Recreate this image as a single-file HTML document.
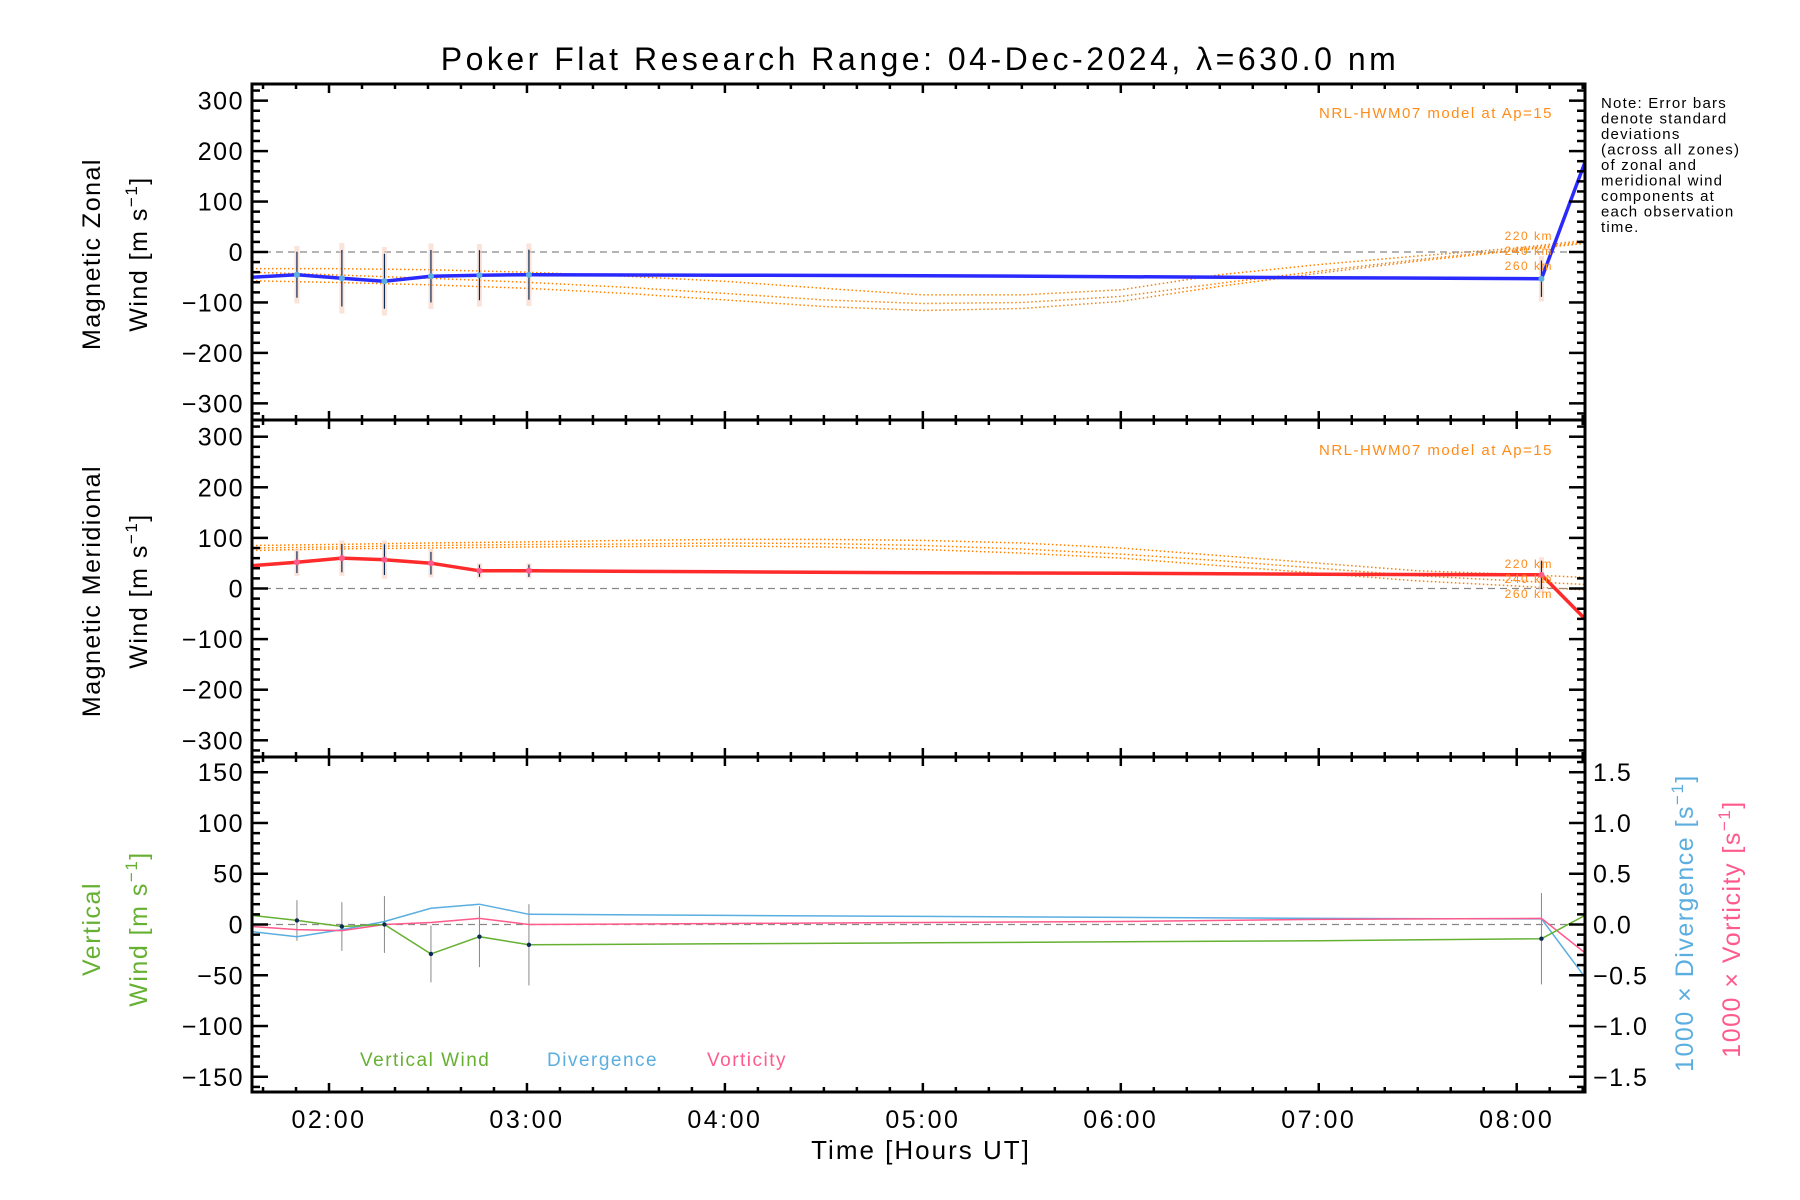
<!DOCTYPE html>
<html><head><meta charset="utf-8"><title>Poker Flat Research Range winds</title>
<style>
html,body{margin:0;padding:0;background:#fff;}
svg{display:block;font-family:"Liberation Sans","DejaVu Sans",sans-serif;}
text{letter-spacing:1.5px;}
</style></head>
<body>
<svg id="chart" width="1800" height="1200" viewBox="0 0 1800 1200" xmlns="http://www.w3.org/2000/svg">
<rect x="0" y="0" width="1800" height="1200" fill="#fff"/>
<text x="920" y="70" font-size="32" text-anchor="middle" fill="#000" style="letter-spacing:3.5px">Poker Flat Research Range: 04-Dec-2024, λ=630.0 nm</text>
<g id="marks"></g>
<g id="axes"></g>
<text font-size="15" fill="#000" x="1601" y="108" style="letter-spacing:1.2px">
<tspan x="1601" dy="0">Note: Error bars</tspan>
<tspan x="1601" dy="15.5">denote standard</tspan>
<tspan x="1601" dy="15.5">deviations</tspan>
<tspan x="1601" dy="15.5">(across all zones)</tspan>
<tspan x="1601" dy="15.5">of zonal and</tspan>
<tspan x="1601" dy="15.5">meridional wind</tspan>
<tspan x="1601" dy="15.5">components at</tspan>
<tspan x="1601" dy="15.5">each observation</tspan>
<tspan x="1601" dy="15.5">time.</tspan>
</text>
<text x="1553" y="118" font-size="15" fill="#ff8c1a" text-anchor="end">NRL-HWM07 model at Ap=15</text>
<text x="1553" y="455" font-size="15" fill="#ff8c1a" text-anchor="end">NRL-HWM07 model at Ap=15</text>
<g font-size="12" fill="#ff8c1a" text-anchor="end">
<text x="1553" y="240">220 km</text>
<text x="1553" y="255">240 km</text>
<text x="1553" y="270">260 km</text>
<text x="1553" y="568">220 km</text>
<text x="1553" y="583">240 km</text>
<text x="1553" y="598">260 km</text>
</g>
<g font-size="19">
<text x="360" y="1066" fill="#66b032">Vertical Wind</text>
<text x="547" y="1066" fill="#5aaee0">Divergence</text>
<text x="707" y="1066" fill="#ff5a8c">Vorticity</text>
</g>
<g font-size="25" text-anchor="middle" style="letter-spacing:3px">
<text transform="translate(100,254) rotate(-90)">Magnetic Zonal</text>
<text transform="translate(147,254) rotate(-90)">Wind [m s<tspan dy="-10" font-size="17">−1</tspan><tspan dy="10">]</tspan></text>
<text transform="translate(100,591) rotate(-90)">Magnetic Meridional</text>
<text transform="translate(147,591) rotate(-90)">Wind [m s<tspan dy="-10" font-size="17">−1</tspan><tspan dy="10">]</tspan></text>
<text fill="#66b032" transform="translate(100,929) rotate(-90)">Vertical</text>
<text fill="#66b032" transform="translate(147,929) rotate(-90)">Wind [m s<tspan dy="-10" font-size="17">−1</tspan><tspan dy="10">]</tspan></text>
<text fill="#5aaee0" transform="translate(1693,923) rotate(-90)">1000 × Divergence [s<tspan dy="-10" font-size="17">−1</tspan><tspan dy="10">]</tspan></text>
<text fill="#ff5a8c" transform="translate(1740,929) rotate(-90)">1000 × Vorticity [s<tspan dy="-10" font-size="17">−1</tspan><tspan dy="10">]</tspan></text>
</g>
<text x="921" y="1159" font-size="26" text-anchor="middle" style="letter-spacing:2px">Time [Hours UT]</text>
</svg>
<script>
// ---- data ----
const obsTimes = [1.611, 1.838, 2.065, 2.28, 2.515, 2.76, 3.01, 4.0, 5.0, 6.0, 7.0, 8.125, 8.345];
const zonalWind = [-50, -45, -52, -58, -48, -46, -45, -46, -47, -49, -51, -53, 178];
const meridWind = [45, 52, 60, 57, 50, 35, 35, 33, 31, 30, 28, 27, -60];
const vertWind = [9, 4, -2, 0, -29, -12, -20, -19, -18, -17, -16, -14, 9];
const divergence = [-0.07, -0.12, -0.05, 0.03, 0.16, 0.20, 0.10, 0.09, 0.08, 0.07, 0.06, 0.055, -0.52];
const vorticity = [-0.02, -0.05, -0.06, 0.0, 0.02, 0.06, 0.0, 0.01, 0.02, 0.03, 0.05, 0.06, -0.28];
const errTimes = [1.838, 2.065, 2.28, 2.515, 2.76, 3.01, 8.125];
const zonalAt = [-45, -52, -58, -48, -46, -45, -53];
const zonalStd = [57, 70, 68, 65, 62, 62, 45];
const meridAt = [52, 60, 57, 50, 35, 35, 27];
const meridStd = [27, 35, 38, 28, 15, 15, 35];
const vertAt = [4, -2, 0, -29, -12, -20, -14];
const vertStd = [20, 24, 28, 28, 30, 40, 45];
const modelTimes = [1.611, 2, 2.5, 3, 3.5, 4, 4.5, 5, 5.5, 6, 6.5, 7, 7.5, 8, 8.345];
const zonal220 = [-33, -33, -35, -40, -48, -58, -72, -85, -85, -75, -45, -25, -8, 8, 23];
const zonal240 = [-40, -45, -52, -60, -70, -82, -95, -102, -100, -88, -62, -38, -15, 5, 20];
const zonal260 = [-57, -60, -65, -72, -82, -95, -108, -116, -112, -98, -68, -42, -18, 3, 17];
const merid220 = [85, 87, 90, 92, 95, 97, 97, 95, 90, 80, 65, 50, 35, 28, 22];
const merid240 = [80, 82, 85, 87, 88, 90, 89, 85, 78, 68, 55, 40, 25, 15, 8];
const merid260 = [75, 78, 80, 82, 83, 84, 82, 77, 70, 60, 45, 30, 15, 5, -3];
const hourTicks = [2, 3, 4, 5, 6, 7, 8];
const hourLabels = ["02:00", "03:00", "04:00", "05:00", "06:00", "07:00", "08:00"];
const windTicks = [-300, -200, -100, 0, 100, 200, 300];
const vertTicks = [-150, -100, -50, 0, 50, 100, 150];
const rightTicks = [-1.5, -1.0, -0.5, 0.0, 0.5, 1.0, 1.5];

// ---- geometry ----
const X0 = 252, X1 = 1585, T0 = 1.611, T1 = 8.345;
const P = [{top:84,bot:420,min:-333,max:333},{top:420,bot:757,min:-333,max:333},{top:757,bot:1092,min:-165,max:165}];
const RMIN = -1.65, RMAX = 1.65;
const NS = "http://www.w3.org/2000/svg";
function xs(t){return X0 + (t - T0) / (T1 - T0) * (X1 - X0);}
function ys(p, v){const q = P[p]; return q.bot - (v - q.min) / (q.max - q.min) * (q.bot - q.top);}
function yr(v){const q = P[2]; return q.bot - (v - RMIN) / (RMAX - RMIN) * (q.bot - q.top);}
const marks = document.getElementById('marks');
const axes = document.getElementById('axes');
function mk(tag, attrs, parent){const e = document.createElementNS(NS, tag); for (const k in attrs) e.setAttribute(k, attrs[k]); parent.appendChild(e); return e;}
function poly(ts, vs, yf, stroke, w, dash, name){
  const pts = ts.map((t,i)=>xs(t).toFixed(1)+','+yf(vs[i]).toFixed(1)).join(' ');
  const e = mk('polyline', {points:pts, fill:'none', stroke:stroke, 'stroke-width':w}, marks);
  if (dash) e.setAttribute('stroke-dasharray', dash);
  
  
}
[0,1,2].forEach(p=>{
  const l = mk('line', {x1:X0, x2:X1, y1:ys(p,0), y2:ys(p,0), stroke:'#888', 'stroke-width':1.3, 'stroke-dasharray':'7,5'}, marks);
  
  
});
const mcol = '#ff8000';
poly(modelTimes, zonal220, v=>ys(0,v), mcol, 1.5, '1.5,2.5', 'model-zonal-220km');
poly(modelTimes, zonal240, v=>ys(0,v), mcol, 1.5, '1.5,2.5', 'model-zonal-240km');
poly(modelTimes, zonal260, v=>ys(0,v), mcol, 1.5, '1.5,2.5', 'model-zonal-260km');
poly(modelTimes, merid220, v=>ys(1,v), mcol, 1.5, '1.5,2.5', 'model-meridional-220km');
poly(modelTimes, merid240, v=>ys(1,v), mcol, 1.5, '1.5,2.5', 'model-meridional-240km');
poly(modelTimes, merid260, v=>ys(1,v), mcol, 1.5, '1.5,2.5', 'model-meridional-260km');
errTimes.forEach((t,i)=>{
  const x = xs(t);
  const b1 = mk('rect', {x:x-2.5, y:ys(0,zonalAt[i]+zonalStd[i]), width:5, height:ys(0,zonalAt[i]-zonalStd[i])-ys(0,zonalAt[i]+zonalStd[i]), fill:'#f8d0c0', opacity:0.6}, marks);
  
  
  const e1 = mk('line', {x1:x, x2:x, y1:ys(0,zonalAt[i]+zonalStd[i]*0.8), y2:ys(0,zonalAt[i]-zonalStd[i]*0.8), stroke:'#0a2a55', 'stroke-width':1.2}, marks);
  
  
  const b2 = mk('rect', {x:x-2.5, y:ys(1,meridAt[i]+meridStd[i]), width:5, height:ys(1,meridAt[i]-meridStd[i])-ys(1,meridAt[i]+meridStd[i]), fill:'#f8d0c0', opacity:0.6}, marks);
  
  
  const e2 = mk('line', {x1:x, x2:x, y1:ys(1,meridAt[i]+meridStd[i]*0.8), y2:ys(1,meridAt[i]-meridStd[i]*0.8), stroke:'#0a2a55', 'stroke-width':1.2}, marks);
  
  
  const e3 = mk('line', {x1:x, x2:x, y1:ys(2,vertAt[i]+vertStd[i]), y2:ys(2,vertAt[i]-vertStd[i]), stroke:'#888', 'stroke-width':1}, marks);
  
  
});
poly(obsTimes, zonalWind, v=>ys(0,v), '#2a2aff', 3.5, null, 'zonal-wind-line');
poly(obsTimes, meridWind, v=>ys(1,v), '#ff2a2a', 3.5, null, 'meridional-wind-line');
poly(obsTimes, divergence, v=>yr(v), '#5aaee0', 1.5, null, 'divergence-line');
poly(obsTimes, vorticity, v=>yr(v), '#ff5a8c', 1.5, null, 'vorticity-line');
poly(obsTimes, vertWind, v=>ys(2,v), '#66b032', 1.5, null, 'vertical-wind-line');
errTimes.forEach((t,i)=>{
  const c = mk('circle', {cx:xs(t), cy:ys(2,vertAt[i]), r:2.2, fill:'#0a2a55'}, marks);
  
  
  const c1 = mk('circle', {cx:xs(t), cy:ys(0,zonalAt[i]), r:3, fill:'#5aaee0'}, marks);
  
  
  const c2 = mk('circle', {cx:xs(t), cy:ys(1,meridAt[i]), r:3, fill:'#ff5a8c'}, marks);
  
  
});
function tick(x1,y1,x2,y2,w){mk('line',{x1:x1,y1:y1,x2:x2,y2:y2,stroke:'#000','stroke-width':w},axes);}
P.forEach((q,p)=>{
  const fr = mk('rect', {x:X0, y:q.top, width:X1-X0, height:q.bot-q.top, fill:'none', stroke:'#000', 'stroke-width':3}, axes);
  
  
  for (let m = Math.ceil(T0*6); m <= T1*6; m++) {
    const x = xs(m/6), major = m % 6 === 0, L = major ? 9 : 5;
    tick(x, q.top, x, q.top+L, 2.5); tick(x, q.bot, x, q.bot-L, 2.5);
  }
  const minorStep = p < 2 ? 20 : 10, majorStep = p < 2 ? 100 : 50;
  for (let v = Math.ceil(q.min/minorStep)*minorStep; v <= q.max; v += minorStep) {
    const y = ys(p, v), major = v % majorStep === 0, L = major ? 16 : 8;
    tick(X0, y, X0+L, y, 2.5);
    if (p < 2) tick(X1, y, X1-L, y, 2.5);
  }
  const labels = p < 2 ? windTicks : vertTicks;
  labels.forEach(v=>{
    const t = mk('text', {x:X0-8, y:ys(p,v)+9, 'font-size':25, 'text-anchor':'end'}, axes);
    t.textContent = (v < 0 ? '−' : '') + Math.abs(v);
    
    
  });
});
for (let k = -16; k <= 16; k++) {
  const v = k/10, y = yr(v), major = k % 5 === 0, L = major ? 16 : 8;
  tick(X1, y, X1-L, y, 2.5);
}
rightTicks.forEach(v=>{
  const t = mk('text', {x:X1+8, y:yr(v)+9, 'font-size':25, 'text-anchor':'start'}, axes);
  t.textContent = (v < 0 ? '−' : '') + Math.abs(v).toFixed(1);
  
  
});
hourTicks.forEach((h,i)=>{
  const t = mk('text', {x:xs(h), y:1128, 'font-size':25, 'text-anchor':'middle', style:'letter-spacing:2.5px'}, axes);
  t.textContent = hourLabels[i];
  
  
});
</script>
</body></html>
